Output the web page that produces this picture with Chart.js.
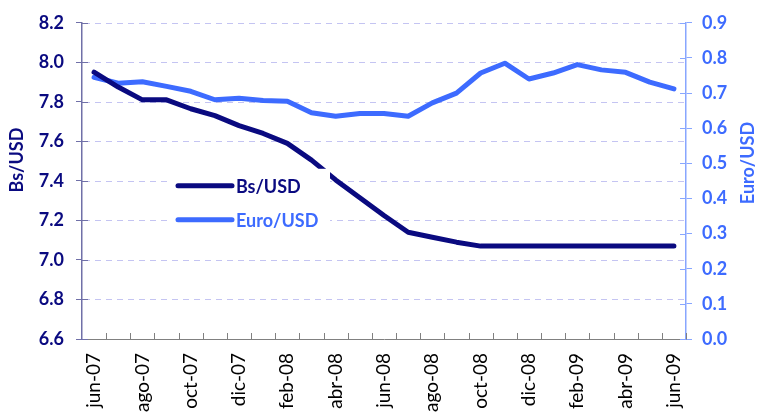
<!DOCTYPE html>
<html>
<head>
<meta charset="utf-8">
<script src="https://cdn.jsdelivr.net/npm/chart.js@4.4.1/dist/chart.umd.min.js"></script>
<style>
    body { margin: 0; background: #fff; }
    #wrap { width: 758px; height: 412px; overflow: hidden; }
</style>
</head>
<body>
<div id="wrap"><canvas id="chart" width="758" height="412"></canvas></div>
<script>
const months = [
    'jun-07', 'jul-07', 'ago-07', 'sep-07', 'oct-07', 'nov-07', 'dic-07', 'ene-08',
    'feb-08', 'mar-08', 'abr-08', 'may-08', 'jun-08', 'jul-08', 'ago-08', 'sep-08',
    'oct-08', 'nov-08', 'dic-08', 'ene-09', 'feb-09', 'mar-09', 'abr-09', 'may-09', 'jun-09',
]
const bsUsd = [
    7.95, 7.875, 7.81, 7.81, 7.765, 7.73, 7.68, 7.64, 7.59, 7.505, 7.405, 7.315, 7.225,
    7.14, 7.115, 7.09, 7.07, 7.07, 7.07, 7.07, 7.07, 7.07, 7.07, 7.07, 7.07,
]
const euroUsd = [
    0.745, 0.728, 0.732, 0.719, 0.705, 0.681, 0.685, 0.679, 0.677, 0.644, 0.634, 0.642, 0.642,
    0.634, 0.672, 0.700, 0.757, 0.785, 0.740, 0.757, 0.781, 0.766, 0.759, 0.731, 0.712,
]
const leftTitle = 'Bs/USD'
const rightTitle = 'Euro/USD'

const NAVY = '#0a0a80'
const BLUE = '#3d6bff'
const FONT = 'Lato, "Open Sans", sans-serif'

const extrasPlugin = {
    id: 'extras',
    beforeDatasetsDraw(chart) {
        // dashed horizontal grid from the left axis ticks
        const ctx = chart.ctx
        const area = chart.chartArea
        const yl = chart.scales.y
        ctx.save()
        ctx.strokeStyle = '#c4c4f2'
        ctx.lineWidth = 1
        ctx.setLineDash([6, 5])
        yl.ticks.forEach((t) => {
            if (t.value === yl.min) return
            const py = Math.round(yl.getPixelForValue(t.value)) + 0.5
            ctx.beginPath()
            ctx.moveTo(area.left + 2, py)
            ctx.lineTo(area.right, py)
            ctx.stroke()
        })
        ctx.restore()
    },
    afterDraw(chart) {
        const ctx = chart.ctx
        const x = chart.scales.x
        const area = chart.chartArea
        ctx.save()
        ctx.strokeStyle = '#808080'
        ctx.lineWidth = 1
        const w = (x.right - x.left) / months.length
        for (let k = 1; k <= months.length; k++) {
            const px = Math.round(x.left + k * w) + 0.5
            ctx.beginPath()
            ctx.moveTo(px, area.bottom - 6)
            ctx.lineTo(px, area.bottom)
            ctx.stroke()
        }
        const yl = chart.scales.y
        ctx.strokeStyle = '#7070a8'
        yl.ticks.forEach((t) => {
            const py = Math.round(yl.getPixelForValue(t.value)) + 0.5
            ctx.beginPath()
            ctx.moveTo(area.left, py)
            ctx.lineTo(area.left + 6, py)
            ctx.stroke()
        })
        const yr = chart.scales.y1
        ctx.strokeStyle = '#88a6ff'
        yr.ticks.forEach((t) => {
            const py = Math.round(yr.getPixelForValue(t.value)) + 0.5
            ctx.beginPath()
            ctx.moveTo(area.right - 6, py)
            ctx.lineTo(area.right, py)
            ctx.stroke()
        })

        ctx.font = 'bold 18px ' + FONT
        ctx.textAlign = 'center'
        ctx.textBaseline = 'middle'
        ctx.fillStyle = NAVY
        ctx.translate(17, 160)
        ctx.rotate(-Math.PI / 2)
        ctx.fillText(leftTitle, 0, 0)
        ctx.restore()

        ctx.save()
        ctx.font = 'bold 18px ' + FONT
        ctx.textAlign = 'center'
        ctx.textBaseline = 'middle'
        ctx.fillStyle = BLUE
        ctx.translate(748, 163)
        ctx.rotate(-Math.PI / 2)
        ctx.fillText(rightTitle, 0, 0)
        ctx.restore()
    },
    afterDatasetsDraw(chart) {
        // legend box sits inside the plot and hides what is under it
        const ctx = chart.ctx
        const area = chart.chartArea
        const bx = area.left + 86
        const by = area.top + 146
        ctx.save()
        ctx.fillStyle = '#fff'
        ctx.fillRect(bx, by, 162, 66)
        ctx.lineCap = 'round'
        ctx.lineWidth = 5
        ctx.font = 'bold 18px ' + FONT
        ctx.textBaseline = 'middle'
        chart.data.datasets.forEach((ds, i) => {
            const ly = by + 17 + i * 34
            ctx.strokeStyle = ds.borderColor
            ctx.beginPath()
            ctx.moveTo(bx + 10, ly)
            ctx.lineTo(bx + 64, ly)
            ctx.stroke()
            ctx.fillStyle = ds.borderColor
            ctx.fillText(ds.label, bx + 68, ly + 1)
        })
        ctx.restore()
    },
}

const ctx = document.getElementById('chart').getContext('2d')
new Chart(ctx, {
    type: 'line',
    data: {
        labels: months,
        datasets: [
            {
                label: 'Bs/USD',
                data: bsUsd,
                yAxisID: 'y',
                borderColor: NAVY,
                borderWidth: 5,
                pointRadius: 0,
                borderCapStyle: 'round',
                borderJoinStyle: 'round',
                tension: 0,
                order: 1,
            },
            {
                label: 'Euro/USD',
                data: euroUsd,
                yAxisID: 'y1',
                borderColor: BLUE,
                borderWidth: 5,
                pointRadius: 0,
                borderCapStyle: 'round',
                borderJoinStyle: 'round',
                tension: 0,
                order: 2,
            },
        ],
    },
    options: {
        responsive: false,
        animation: false,
        layout: { padding: { top: 19, left: 0, right: 0, bottom: 0 } },
        plugins: {
            legend: { display: false },
            tooltip: { enabled: false },
        },
        scales: {
            x: {
                offset: true,
                grid: { display: false, drawTicks: false },
                border: { display: true, color: '#808080', width: 1 },
                ticks: {
                    autoSkip: false,
                    maxRotation: 90,
                    minRotation: 90,
                    padding: 14,
                    color: '#000',
                    font: { family: FONT, size: 19 },
                    callback: (v, i) => (i % 2 === 0 ? months[i] : ''),
                },
                afterFit: (s) => { s.height = 73 },
            },
            y: {
                position: 'left',
                min: 6.6,
                max: 8.2,
                ticks: {
                    stepSize: 0.2,
                    padding: 12,
                    color: NAVY,
                    font: { family: FONT, size: 18, weight: 'bold' },
                    callback: (v) => v.toFixed(1),
                },
                grid: {
                    drawOnChartArea: false,
                    tickColor: '#7070a8',
                    tickLength: 6,
                },
                border: { color: '#7070a8', width: 1.5 },
                afterFit: (s) => { s.width = 82 },
            },
            y1: {
                position: 'right',
                min: 0,
                max: 0.9,
                ticks: {
                    stepSize: 0.1,
                    padding: 10,
                    color: BLUE,
                    font: { family: FONT, size: 18, weight: 'bold' },
                    callback: (v) => v.toFixed(1),
                },
                grid: {
                    drawOnChartArea: false,
                    tickColor: '#88a6ff',
                    tickLength: 6,
                },
                border: { color: '#88a6ff', width: 1.5 },
                afterFit: (s) => { s.width = 72 },
            },
        },
    },
    plugins: [extrasPlugin],
})
</script>
</body>
</html>
